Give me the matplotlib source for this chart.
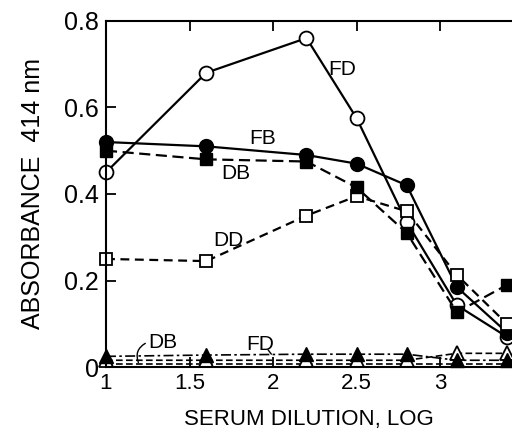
import matplotlib
matplotlib.use("Agg")
import matplotlib.pyplot as plt

plt.rcParams['font.family'] = ['Liberation Sans', 'DejaVu Sans']

x = [1.0, 1.6, 2.2, 2.5, 2.8, 3.1, 3.4]
fd_open_circle = [0.45, 0.68, 0.76, 0.575, 0.335, 0.143, 0.07]
fb_filled_circle = [0.52, 0.51, 0.49, 0.47, 0.42, 0.185, 0.08]
db_filled_square = [0.50, 0.48, 0.475, 0.415, 0.31, 0.127, 0.19]
dd_open_square = [0.25, 0.245, 0.35, 0.395, 0.36, 0.213, 0.10]
fd_filled_tri = [0.025, 0.028, 0.03, 0.03, 0.03, 0.016, 0.016]
db_open_tri = [0.016, 0.016, 0.016, 0.016, 0.016, 0.032, 0.032]
baseline_ctrl = [0.008, 0.008, 0.008, 0.008, 0.008, 0.008, 0.008]

xticks = [1, 1.5, 2, 2.5, 3]
xticklabels = ['1', '1.5', '2', '2.5', '3']
yticks = [0, 0.2, 0.4, 0.6, 0.8]
yticklabels = ['0', '0.2', '0.4', '0.6', '0.8']

fig = plt.figure(figsize=(5.12, 4.33), dpi=100)
ax = fig.add_axes([0.207, 0.152, 0.793, 0.80])

lw = 1.6
ax.plot(x, baseline_ctrl, color='black', lw=1.2, ls=(0, (4, 2)), clip_on=False)
ax.plot(x, db_open_tri, color='black', lw=1.2, ls=(0, (4, 2)), marker='^',
        mfc='white', mec='black', ms=10, mew=1.3, clip_on=False)
ax.plot(x, fd_filled_tri, color='black', lw=1.2, ls=(0, (6, 2, 1.5, 2)), marker='^',
        mfc='black', mec='black', ms=10, clip_on=False)
ax.plot(x, fd_open_circle, color='black', lw=lw, ls='-', marker='o',
        mfc='white', mec='black', ms=10, mew=1.3, clip_on=False)
ax.plot(x, fb_filled_circle, color='black', lw=lw, ls='-', marker='o',
        mfc='black', mec='black', ms=10, clip_on=False)
ax.plot(x, dd_open_square, color='black', lw=lw, ls=(0, (4, 2.5)), marker='s',
        mfc='white', mec='black', ms=9, mew=1.3, clip_on=False)
ax.plot(x, db_filled_square, color='black', lw=lw, ls=(0, (5, 2.5)), marker='s',
        mfc='black', mec='black', ms=9, clip_on=False)

ax.set_xlim(1, 3.43)
ax.set_ylim(0, 0.8)
ax.spines['right'].set_visible(False)
for s in ['left', 'bottom', 'top']:
    ax.spines[s].set_linewidth(1.5)

ax.set_xticks(xticks)
ax.set_xticklabels(xticklabels, fontsize=16)
ax.set_yticks(yticks)
ax.set_yticklabels(yticklabels, fontsize=18)
ax.tick_params(axis='both', direction='in', length=7, width=1.3, top=True, pad=4)
ax.tick_params(axis='y', pad=5)

tf = dict(fontsize=15, color='black')
ax.text(2.33, 0.675, 'FD', **tf)
ax.text(1.86, 0.515, 'FB', **tf)
ax.text(1.69, 0.435, 'DB', **tf)
ax.text(1.64, 0.28, 'DD', **tf)
ax.text(1.25, 0.045, 'DB', **tf)
ax.text(1.84, 0.040, 'FD', **tf)
ax.annotate('', xy=(1.20, 0.005), xytext=(1.25, 0.058),
            arrowprops=dict(arrowstyle='-', color='black', lw=1,
                            connectionstyle='arc3,rad=0.5'))
ax.annotate('', xy=(2.00, 0.025), xytext=(1.96, 0.045),
            arrowprops=dict(arrowstyle='-', color='black', lw=1))

ax.set_xlabel('SERUM DILUTION, LOG', fontsize=16, labelpad=11)
ax.set_ylabel('ABSORBANCE  414 nm', fontsize=18, labelpad=14)

fig.savefig('out.png', dpi=100)
